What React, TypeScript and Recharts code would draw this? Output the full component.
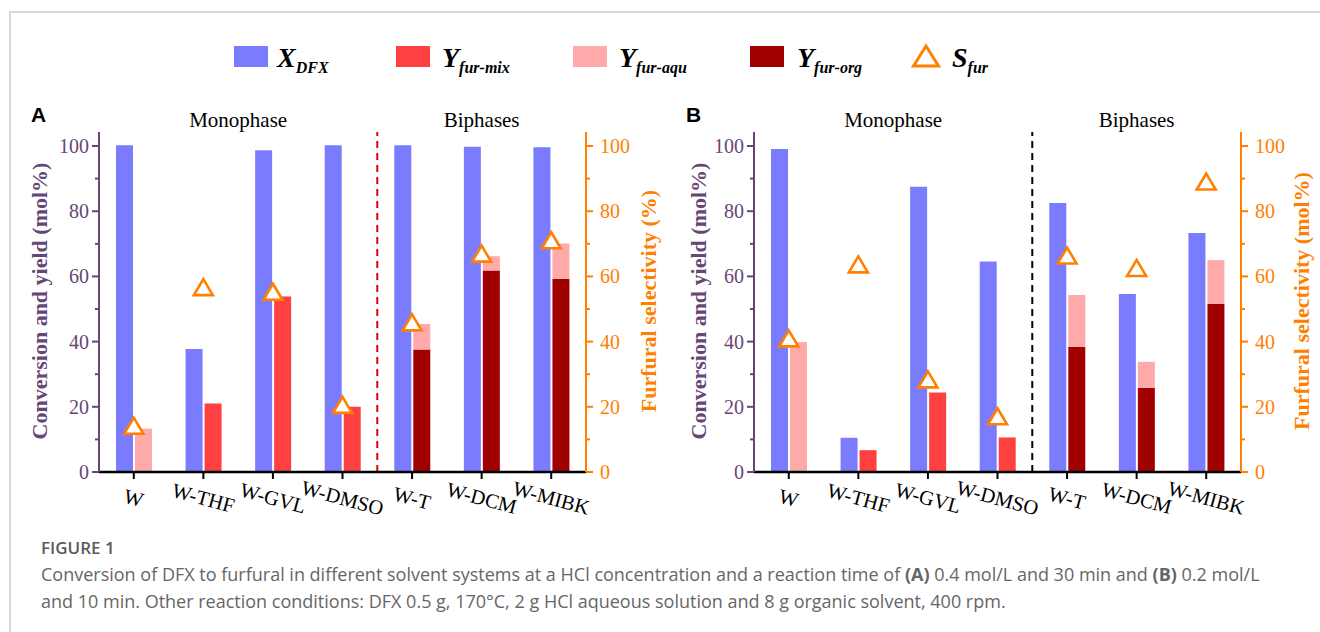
import React from "react";
import {
  Bar,
  ComposedChart,
  Line,
  ReferenceArea,
  ReferenceLine,
  XAxis,
  YAxis,
} from "recharts";

const categories = ["W", "W-THF", "W-GVL", "W-DMSO", "W-T", "W-DCM", "W-MIBK"];

// panel A: 0.4 mol/L, 30 min
const convA = [100.2, 37.7, 98.7, 100.2, 100.2, 99.8, 99.6];
const mixA = [0, 21.0, 53.8, 20.0, 0, 0, 0];
const aquA = [13.3, 0, 0, 0, 7.8, 4.4, 10.8];
const orgA = [0, 0, 0, 0, 37.6, 61.8, 59.3];
const selA = [14.2, 56.7, 55.3, 20.6, 45.9, 67.0, 71.1];

// panel B: 0.2 mol/L, 10 min
const convB = [99.1, 10.5, 87.5, 64.6, 82.5, 54.6, 73.3];
const mixB = [0, 6.7, 24.4, 10.6, 0, 0, 0];
const aquB = [39.9, 0, 0, 0, 15.9, 8.0, 13.4];
const orgB = [0, 0, 0, 0, 38.4, 25.8, 51.6];
const selB = [41.0, 63.7, 28.4, 17.1, 66.4, 62.6, 89.1];

const yTicks = [0, 10, 20, 30, 40, 50, 60, 70, 80, 90, 100];

const SERIF = "'Liberation Serif', 'Times New Roman', serif";
const PURPLE = "#674677";
const ORANGE = "#ff8000";
const BLUE = "#7b7bfe";
const RED = "#ff4040";
const PINK = "#ffaaaa";
const DARK = "#a00000";

function buildRows(
  conv: number[],
  mix: number[],
  aqu: number[],
  org: number[],
  sel: number[]
) {
  return categories.map((cat, i) => ({
    cat,
    conv: conv[i],
    mix: mix[i],
    aqu: aqu[i],
    org: org[i],
    sel: sel[i],
  }));
}

function LeftTick(props: any) {
  const { x, y, payload } = props;
  const ax = x + 11;
  const major = payload.value % 20 === 0;
  return (
    <g>
      <line x1={ax - (major ? 7 : 4)} x2={ax} y1={y} y2={y} stroke={PURPLE} strokeWidth={2} />
      {major && (
        <text
          x={ax - 10}
          y={y}
          textAnchor="end"
          dominantBaseline="central"
          fill={PURPLE}
          fontSize={20}
          fontFamily={SERIF}
        >
          {payload.value}
        </text>
      )}
    </g>
  );
}

function RightTick(props: any) {
  const { x, y, payload } = props;
  const ax = x - 11;
  const major = payload.value % 20 === 0;
  return (
    <g>
      <line x1={ax} x2={ax + (major ? 7 : 4)} y1={y} y2={y} stroke={ORANGE} strokeWidth={2} />
      {major && (
        <text
          x={ax + 14}
          y={y}
          textAnchor="start"
          dominantBaseline="central"
          fill={ORANGE}
          fontSize={20}
          fontFamily={SERIF}
        >
          {payload.value}
        </text>
      )}
    </g>
  );
}

function CatTick(props: any) {
  const { x, y, payload } = props;
  const cy = y + 17;
  return (
    <text
      x={x}
      y={cy}
      transform={`rotate(15, ${x}, ${cy})`}
      textAnchor="middle"
      dominantBaseline="central"
      fill="#000"
      fontSize={20.5}
      fontFamily={SERIF}
    >
      {payload.value}
    </text>
  );
}

function Triangle(props: any) {
  const { cx, cy } = props;
  if (cx == null || cy == null) return null;
  return (
    <polygon
      points={`${cx},${cy - 8} ${cx + 9.5},${cy + 8} ${cx - 9.5},${cy + 8}`}
      fill="#fff"
      stroke={ORANGE}
      strokeWidth={2.6}
    />
  );
}

const phaseLabel = { fill: "#000", fontSize: 21, fontFamily: SERIF, offset: 5 };

function Panel({ rows, divider }: { rows: any[]; divider: string }) {
  return (
    <ComposedChart
      width={660}
      height={560}
      data={rows}
      margin={{ top: 132, right: 14, bottom: 28, left: 39 }}
      barSize={17}
      barGap={2}
    >
      <XAxis
        dataKey="cat"
        interval={0}
        tickSize={7}
        tickMargin={2}
        height={60}
        axisLine={{ stroke: "#000", strokeWidth: 2.5 }}
        tickLine={{ stroke: "#000", strokeWidth: 2 }}
        tick={<CatTick />}
      />
      <XAxis
        xAxisId="top"
        dataKey="cat"
        orientation="top"
        height={0}
        tick={false}
        tickLine={false}
        axisLine={{ stroke: "#000", strokeWidth: 2 }}
      />
      <YAxis
        yAxisId="left"
        width={60}
        domain={[0, 104.3]}
        allowDataOverflow
        ticks={yTicks}
        interval={0}
        tickSize={7}
        tickMargin={4}
        tickLine={false}
        axisLine={{ stroke: PURPLE, strokeWidth: 2 }}
        tick={<LeftTick />}
      />
      <YAxis
        yAxisId="right"
        orientation="right"
        width={60}
        domain={[0, 104.3]}
        allowDataOverflow
        ticks={yTicks}
        interval={0}
        tickSize={7}
        tickMargin={4}
        tickLine={false}
        axisLine={{ stroke: ORANGE, strokeWidth: 2 }}
        tick={<RightTick />}
      />
      <ReferenceArea
        yAxisId="left"
        x1="W"
        x2="W-DMSO"
        fill="none"
        stroke="none"
        label={{ value: "Monophase", position: "top", ...phaseLabel }}
      />
      <ReferenceArea
        yAxisId="left"
        x1="W-T"
        x2="W-MIBK"
        fill="none"
        stroke="none"
        label={{ value: "Biphases", position: "top", ...phaseLabel }}
      />
      <Bar yAxisId="left" dataKey="conv" stackId="a" fill={BLUE} isAnimationActive={false} />
      <Bar yAxisId="left" dataKey="org" stackId="b" fill={DARK} isAnimationActive={false} />
      <Bar yAxisId="left" dataKey="mix" stackId="b" fill={RED} isAnimationActive={false} />
      <Bar yAxisId="left" dataKey="aqu" stackId="b" fill={PINK} isAnimationActive={false} />
      <ReferenceLine
        yAxisId="left"
        x="W-DMSO"
        position="end"
        stroke={divider}
        strokeWidth={2}
        strokeDasharray="7 5"
      />
      <Line
        yAxisId="right"
        dataKey="sel"
        stroke="none"
        dot={<Triangle />}
        activeDot={false}
        isAnimationActive={false}
      />
    </ComposedChart>
  );
}

const legendText = { fontFamily: SERIF, fontWeight: "bold" as const, fontStyle: "italic" as const };

function LegendLabel({ x, main, sub }: { x: number; main: string; sub: string }) {
  return (
    <text x={x} y={67} {...legendText} fontSize={28} fill="#000">
      {main}
      <tspan fontSize={16} dy={6}>
        {sub}
      </tspan>
    </text>
  );
}

function AxisTitle({ x, text, color }: { x: number; text: string; color: string }) {
  return (
    <text
      transform={`translate(${x}, 301) rotate(-90)`}
      textAnchor="middle"
      dominantBaseline="central"
      fontFamily={SERIF}
      fontWeight="bold"
      fontSize={22}
      fill={color}
    >
      {text}
    </text>
  );
}

export default function App() {
  const rowsA = buildRows(convA, mixA, aquA, orgA, selA);
  const rowsB = buildRows(convB, mixB, aquB, orgB, selB);

  return (
    <div
      style={{
        position: "absolute",
        left: 0,
        top: 0,
        width: 1320,
        height: 632,
        overflow: "hidden",
        background: "#fff",
      }}
    >
      <div
        style={{
          position: "absolute",
          left: 9,
          top: 11,
          width: 1400,
          height: 700,
          borderTop: "2px solid #d6d6d6",
          borderLeft: "2px solid #d6d6d6",
        }}
      />
      <div style={{ position: "absolute", left: 0, top: 0 }}>
        <Panel rows={rowsA} divider="#e00000" />
      </div>
      <div style={{ position: "absolute", left: 655, top: 0 }}>
        <Panel rows={rowsB} divider="#000" />
      </div>
      <svg
        width={1320}
        height={632}
        style={{ position: "absolute", left: 0, top: 0, pointerEvents: "none" }}
      >
        <rect x={234} y={46} width={34} height={21} fill={BLUE} />
        <LegendLabel x={277} main="X" sub="DFX" />
        <rect x={396} y={46} width={34} height={21} fill={RED} />
        <LegendLabel x={442} main="Y" sub="fur-mix" />
        <rect x={573} y={46} width={34} height={21} fill={PINK} />
        <LegendLabel x={619} main="Y" sub="fur-aqu" />
        <rect x={750} y={46} width={34} height={21} fill={DARK} />
        <LegendLabel x={797} main="Y" sub="fur-org" />
        <polygon points="926,46 938.5,66 913.5,66" fill="#fff" stroke={ORANGE} strokeWidth={3} />
        <LegendLabel x={952} main="S" sub="fur" />

        <text x={31} y={122} fontFamily="'Liberation Sans', Arial, sans-serif" fontWeight="bold" fontSize={21}>
          A
        </text>
        <text x={686} y={122} fontFamily="'Liberation Sans', Arial, sans-serif" fontWeight="bold" fontSize={21}>
          B
        </text>

        <AxisTitle x={39} text="Conversion and yield (mol%)" color={PURPLE} />
        <AxisTitle x={648} text="Furfural selectivity (%)" color={ORANGE} />
        <AxisTitle x={698} text="Conversion and yield (mol%)" color={PURPLE} />
        <AxisTitle x={1301} text="Furfural selectivity (mol%)" color={ORANGE} />
      </svg>
      <div
        style={{
          position: "absolute",
          left: 41,
          top: 534,
          fontFamily: "'Open Sans', sans-serif",
          fontSize: 18,
          lineHeight: "27px",
          color: "#666",
          whiteSpace: "nowrap",
        }}
      >
        <div style={{ fontWeight: 600, color: "#5a5a5a", fontSize: 17 }}>FIGURE 1</div>
        <div>
          Conversion of DFX to furfural in different solvent systems at a HCl concentration and a
          reaction time of <b>(A)</b> 0.4 mol/L and 30 min and <b>(B)</b> 0.2 mol/L
        </div>
        <div>
          and 10 min. Other reaction conditions: DFX 0.5 g, 170°C, 2 g HCl aqueous solution and 8 g
          organic solvent, 400 rpm.
        </div>
      </div>
    </div>
  );
}
